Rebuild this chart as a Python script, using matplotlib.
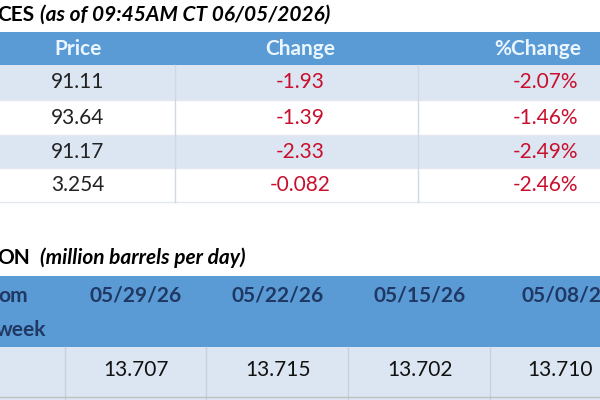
import matplotlib.pyplot as plt
from matplotlib.patches import Rectangle

# price table
price_cols = ["Price", "Change", "%Change"]
prices = ["91.11", "93.64", "91.17", "3.254"]
changes = ["-1.93", "-1.39", "-2.33", "-0.082"]
pct_changes = ["-2.07%", "-1.46%", "-2.49%", "-2.46%"]

# production table
prod_dates = ["05/29/26", "05/22/26", "05/15/26", "05/08/26"]
prod_values = ["13.707", "13.715", "13.702", "13.710"]

blue = "#5b9bd5"
light = "#dce6f2"
red = "#c8102e"
font = "Lato"
fs = 15

fig = plt.figure(figsize=(6, 4), dpi=100)
ax = fig.add_axes([0, 0, 1, 1])
ax.set_xlim(0, 600)
ax.set_ylim(400, 0)
ax.axis("off")

def rect(x, y, w, h, c):
    ax.add_patch(Rectangle((x, y), w, h, facecolor=c, edgecolor="none"))

# top title
ax.text(-3, 15, "CES", fontsize=fs, fontweight="bold", family=font, va="center")
ax.text(40, 15, "(as of 09:45AM CT 06/05/2026)", fontsize=fs, fontweight="bold",
        style="italic", family=font, va="center")

# header band
rect(0, 32, 600, 34, blue)
col_x = [78, 300, 538]
for x, name in zip(col_x, price_cols):
    ax.text(x, 49, name, fontsize=fs, fontweight="bold", color="#eaf6ff",
            ha="center", va="center", family=font)

row_y = [65, 100, 135, 168]
row_h = [35, 35, 33, 34]
for i in range(len(prices)):
    rect(0, row_y[i], 600, row_h[i], light if i % 2 == 0 else "white")
    cy = row_y[i] + row_h[i] / 2
    ax.text(78, cy, prices[i], fontsize=fs, ha="center", va="center", family=font, color="#222222")
    ax.text(300, cy, changes[i], fontsize=fs, ha="center", va="center", family=font, color=red)
    ax.text(578, cy, pct_changes[i], fontsize=fs, ha="right", va="center", family=font, color=red)
    ax.plot([0, 600], [row_y[i] + row_h[i]] * 2, color="#e4e8ee", lw=1)
for x in [175, 418]:
    ax.plot([x, x], [65, 202], color="#d0d8e4", lw=1)

# production title
ax.text(-3, 258, "ON", fontsize=fs, fontweight="bold", family=font, va="center")
ax.text(40, 258, "(million barrels per day)", fontsize=fs, fontweight="bold",
        style="italic", family=font, va="center")

rect(0, 276, 600, 71, blue)
ax.text(-2, 296, "om", fontsize=fs, fontweight="bold", color="#1f3864", va="center", family=font)
ax.text(-4, 330, "week", fontsize=fs, fontweight="bold", color="#1f3864", va="center", family=font)
rect(0, 347, 600, 53, light)
date_x = [136, 278, 420, 568]
for x, d, v in zip(date_x, prod_dates, prod_values):
    ax.text(x, 296, d, fontsize=fs, fontweight="bold", color="#1f3864",
            ha="center", va="center", family=font)
for x, v in zip(date_x[:3] + [560], prod_values):
    ax.text(x, 370, v, fontsize=fs, ha="center", va="center", family=font, color="#111111")
for x in [65, 206, 348, 490]:
    ax.plot([x, x], [347, 400], color="#c8d0dc", lw=1)
ax.plot([0, 600], [397, 397], color="#c0c0c0", lw=1)

fig.savefig("out.png", dpi=100)
